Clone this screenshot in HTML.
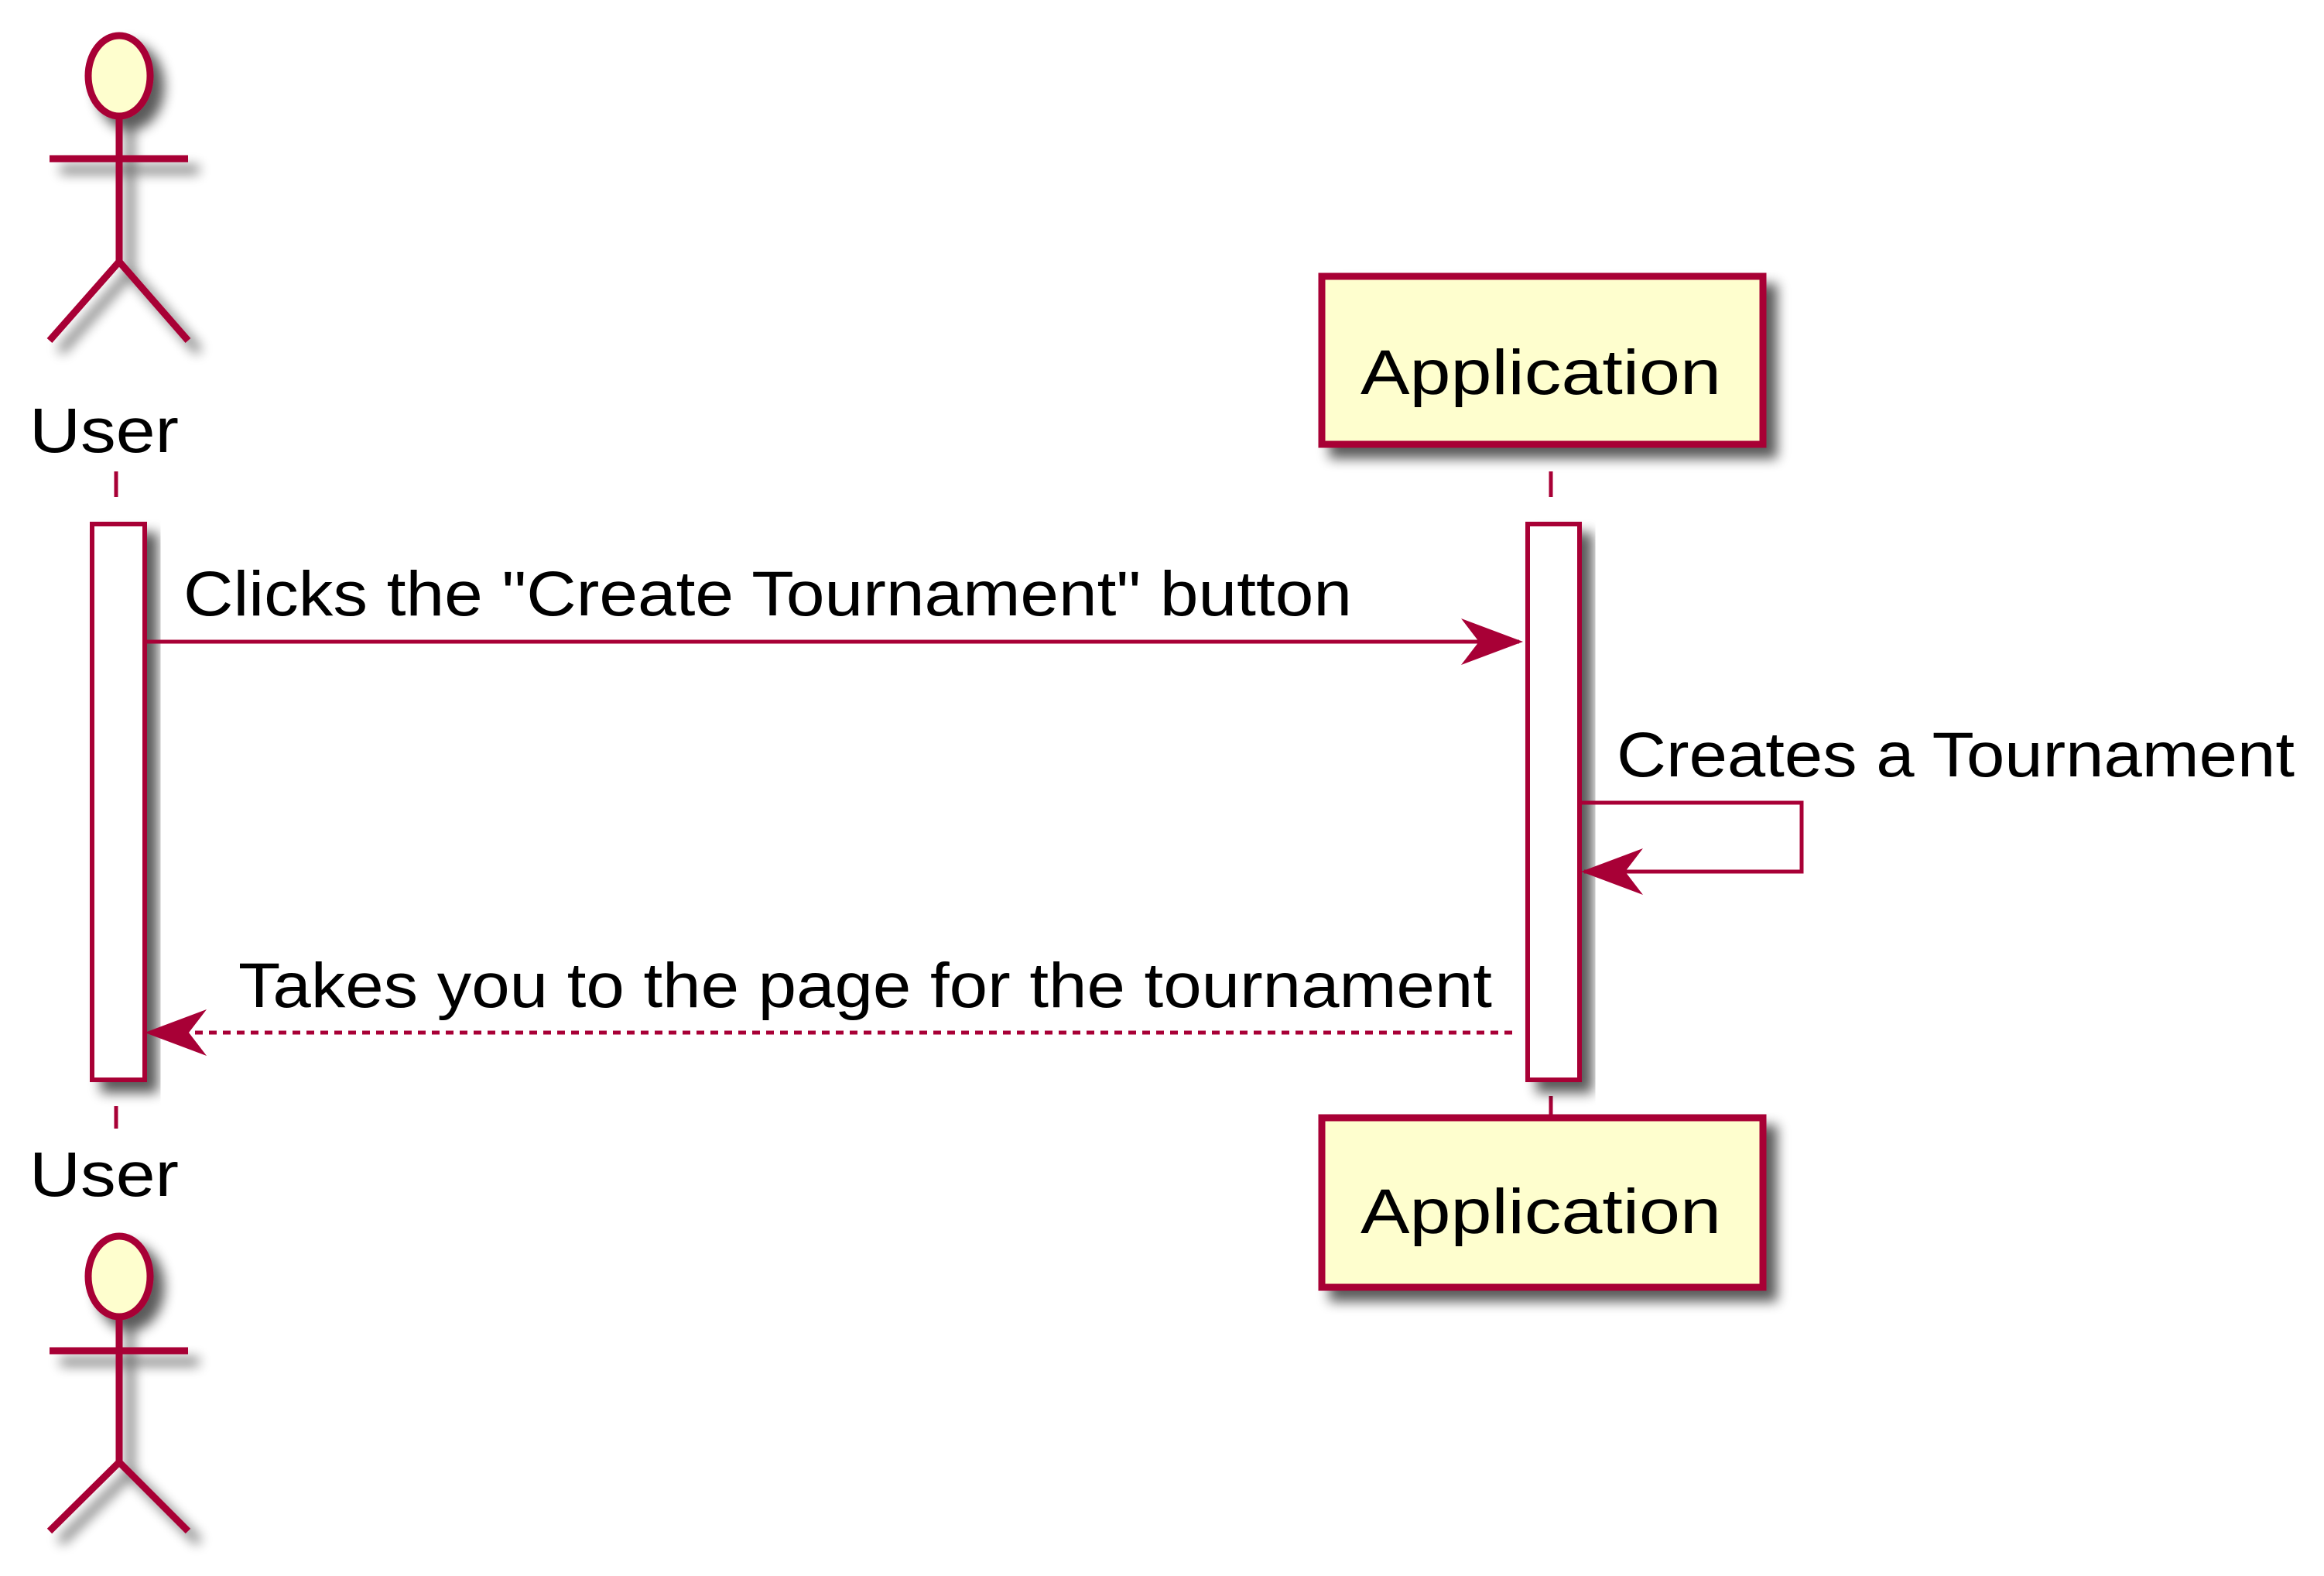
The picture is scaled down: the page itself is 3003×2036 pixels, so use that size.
<!DOCTYPE html>
<html><head><style>html,body{margin:0;padding:0;background:#fff}svg{display:block}</style></head><body>
<svg width="3003" height="2036" viewBox="0 0 3003 2036" xmlns="http://www.w3.org/2000/svg" font-family="Liberation Sans, Arial, sans-serif">
<defs>
<filter id="sh" x="-30%" y="-30%" width="160%" height="160%">
<feGaussianBlur in="SourceAlpha" stdDeviation="8"/>
<feOffset dx="14" dy="14" result="b"/>
<feComponentTransfer><feFuncA type="linear" slope="0.65"/></feComponentTransfer>
<feMerge><feMergeNode/><feMergeNode in="SourceGraphic"/></feMerge>
</filter>
</defs>
<g transform="translate(0,-4)">
<g stroke="#A80036" fill="none">
<line x1="150" y1="613" x2="150" y2="646" stroke-width="5"/>
<line x1="150" y1="1433" x2="150" y2="1462" stroke-width="5"/>
<line x1="2004" y1="613" x2="2004" y2="646" stroke-width="5"/>
<line x1="2004" y1="1420" x2="2004" y2="1448" stroke-width="5"/>
</g>
<g stroke="#A80036" stroke-width="9" filter="url(#sh)">
<ellipse cx="154" cy="102" rx="40" ry="52" fill="#FEFECE"/>
<path d="M154 154 V342 M64 209 H243 M64 444 L154 342 L243 444" fill="none"/>
</g>
<g stroke="#A80036" stroke-width="9" filter="url(#sh)">
<ellipse cx="154" cy="1653" rx="40" ry="52" fill="#FEFECE"/>
<path d="M154 1705 V1893 M64 1749 H243 M64 1982 L154 1893 L243 1982" fill="none"/>
</g>
<g transform="translate(-9,0)">
<rect x="1717" y="361" width="570" height="217" fill="#FEFECE" stroke="#A80036" stroke-width="9" filter="url(#sh)"/>
<rect x="1717" y="1448" width="570" height="219" fill="#FEFECE" stroke="#A80036" stroke-width="9" filter="url(#sh)"/>
<rect x="1983" y="681" width="67" height="718" fill="#fff" stroke="#A80036" stroke-width="6" filter="url(#sh)"/>
<polyline points="2050,1041 2337,1041 2337,1130 2056,1130" stroke="#A80036" stroke-width="5" fill="none"/>
<path d="M2052 1130 L2132 1100 L2109 1130 L2132 1160 Z" fill="#A80036"/>
<g font-size="82" fill="#000">
<text x="1767" y="513" textLength="466" lengthAdjust="spacingAndGlyphs">Application</text>
<text x="1767" y="1597" textLength="466" lengthAdjust="spacingAndGlyphs">Application</text>
<text x="2098" y="1007" textLength="876" lengthAdjust="spacingAndGlyphs">Creates a Tournament</text>
</g>
</g>
<rect x="119" y="681" width="68" height="718" fill="#fff" stroke="#A80036" stroke-width="6" filter="url(#sh)"/>
<g stroke="#A80036" stroke-width="5" fill="none">
<line x1="187" y1="833" x2="1963" y2="833"/>
<line x1="1954" y1="1338" x2="195" y2="1338" stroke-dasharray="10,8"/>
</g>
<g fill="#A80036">
<path d="M1968 833 L1888 803 L1911 833 L1888 863 Z"/>
<path d="M187 1338 L267 1308 L244 1338 L267 1368 Z"/>
</g>
<g font-size="82" fill="#000">
<text x="38" y="588" textLength="193" lengthAdjust="spacingAndGlyphs">User</text>
<text x="38" y="1549" textLength="193" lengthAdjust="spacingAndGlyphs">User</text>
<text x="237" y="799" textLength="1510" lengthAdjust="spacingAndGlyphs">Clicks the "Create Tournament" button</text>
<text x="308" y="1305" textLength="1620" lengthAdjust="spacingAndGlyphs">Takes you to the page for the tournament</text>
</g>
</g>
</svg>
</body></html>
